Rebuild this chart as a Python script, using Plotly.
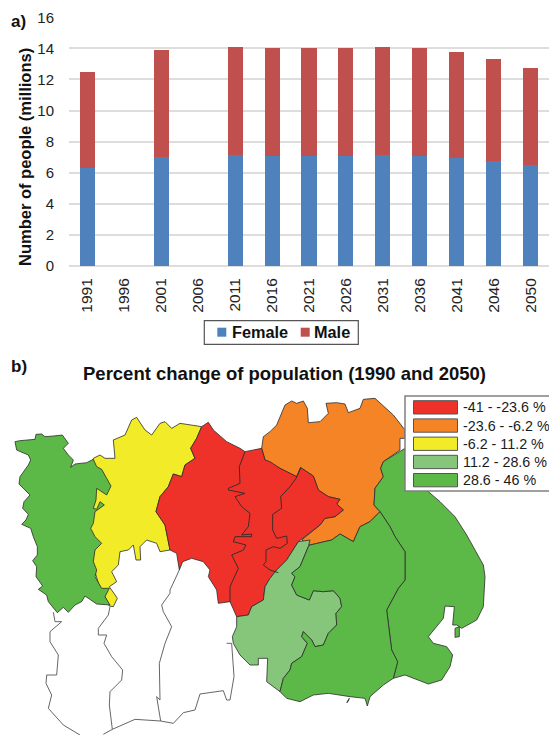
import plotly.graph_objects as go

years = ["1991","1996","2001","2006","2011","2016","2021","2026","2031","2036","2041","2046","2050"]
female = [6.33,None,7.0,None,7.12,7.08,7.1,7.1,7.12,7.08,6.97,6.73,6.47]
male = [6.17,None,6.87,None,7.0,6.95,6.95,6.95,6.95,6.95,6.81,6.57,6.28]
y_ticks = [0,2,4,6,8,10,12,14,16]

legend_labels = ["-41 - -23.6 %","-23.6 - -6.2 %","-6.2 - 11.2 %","11.2 - 28.6 %","28.6 - 46 %"]
legend_colors = ["#EE3229","#F58427","#F2EB27","#85C67A","#5DB947"]

# Map outlines, in map units (x east, y south)
west_green = [(45,185),(60,182),(105,178),(108,163),(125,162),(135,170),(160,168),(187,165),(205,190),(190,205),(205,225),(220,240),(212,262),(225,252),(260,248),(280,238),(290,260),(305,268),(320,295),(333,318),(320,345),(290,325),(288,360),(280,385),(290,388),(300,365),(313,375),(293,390),(285,395),(280,430),(272,445),(285,470),(305,490),(285,510),(280,545),(290,570),(285,590),(305,625),(328,625),(315,650),(330,675),(290,672),(255,648),(245,665),(225,675),(205,697),(190,682),(172,698),(145,665),(140,645),(115,628),(128,618),(108,590),(110,560),(98,542),(112,525),(112,500),(100,470),(92,445),(65,433),(78,420),(85,403),(68,385),(72,365),(90,345),(75,330),(57,312),(60,290),(85,255),(92,240),(85,225),(50,210)]
yellow = [(280,235),(300,225),(315,235),(345,235),(340,180),(375,165),(395,120),(410,112),(425,135),(435,150),(455,165),(480,130),(495,125),(515,145),(540,130),(605,140),(590,175),(572,205),(585,235),(555,255),(545,290),(520,282),(505,320),(480,350),(468,395),(495,435),(510,510),(480,515),(470,490),(440,480),(430,490),(420,500),(422,540),(408,540),(400,495),(385,510),(360,515),(355,555),(335,575),(350,605),(328,620),(352,655),(340,680),(328,678),(315,650),(300,625),(280,560),(270,445),(280,350)]
red = [(605,140),(625,127),(640,150),(680,185),(720,205),(735,215),(785,205),(795,240),(810,245),(840,265),(890,290),(902,263),(940,288),(955,330),(985,350),(1020,358),(1010,372),(1030,390),(1005,410),(975,415),(960,435),(910,475),(895,485),(860,540),(830,570),(810,595),(795,620),(790,660),(755,680),(745,705),(710,710),(690,665),(655,670),(650,630),(625,590),(630,570),(610,545),(575,535),(548,545),(538,570),(530,520),(510,510),(495,435),(468,395),(480,350),(505,320),(520,282),(545,290),(555,255),(585,235),(572,205),(590,175)]
river_a = [(735,215),(718,260),(720,310),(685,325),(685,330),(735,340),(705,350),(725,380),(750,400),(745,440),(725,465),(755,462),(755,470),(705,470),(700,485),(738,495),(730,510),(695,525),(715,565),(690,620),(690,665)]
river_b = [(902,263),(888,295),(870,320),(842,350),(845,385),(818,403),(818,450),(830,475),(860,468),(862,490),(840,505),(820,500),(798,510),(798,545),(790,555),(810,570),(835,578)]
orange = [(785,205),(790,170),(810,155),(830,135),(855,75),(875,63),(890,70),(910,63),(922,85),(925,128),(960,125),(985,100),(978,70),(1010,68),(1035,72),(1045,98),(1080,85),(1090,58),(1125,55),(1160,85),(1180,105),(1215,150),(1215,175),(1200,175),(1200,210),(1150,245),(1142,265),(1150,290),(1125,325),(1122,375),(1140,395),(1110,425),(1080,440),(1060,485),(1020,462),(995,480),(930,495),(905,480),(960,435),(975,415),(1005,410),(1030,390),(1010,372),(1020,358),(985,350),(955,330),(940,288),(902,263),(890,290),(840,265),(795,240)]
light_green = [(895,485),(930,480),(925,500),(900,560),(875,580),(885,590),(875,615),(890,645),(928,660),(940,632),(970,635),(1000,632),(1020,655),(1025,680),(1008,700),(1010,735),(985,760),(970,795),(945,800),(935,780),(910,755),(905,770),(922,790),(905,830),(875,850),(870,870),(850,895),(840,935),(800,905),(803,835),(775,835),(775,855),(750,855),(720,825),(700,790),(697,770),(710,740),(710,710),(745,705),(755,680),(790,660),(795,620),(810,595),(830,570),(860,540)]
south_green = [(930,495),(995,480),(1020,462),(1060,485),(1080,440),(1110,425),(1140,395),(1170,440),(1185,470),(1215,515),(1215,600),(1195,625),(1160,690),(1165,730),(1175,810),(1193,845),(1180,895),(1150,915),(1110,950),(1102,978),(1095,955),(1050,950),(985,940),(940,945),(900,965),(860,955),(840,935),(850,895),(870,870),(875,850),(905,830),(922,790),(905,770),(910,755),(935,780),(945,800),(970,795),(985,760),(1010,735),(1008,700),(1025,680),(1020,655),(1000,632),(970,635),(940,632),(928,660),(890,645),(875,615),(885,590),(875,580),(900,560),(925,500)]
east_green = [(1140,395),(1122,375),(1125,325),(1150,290),(1142,265),(1150,245),(1215,205),(1215,300),(1285,335),(1320,365),(1365,410),(1400,465),(1450,555),(1455,590),(1450,680),(1430,720),(1385,745),(1370,735),(1358,735),(1363,680),(1335,678),(1330,715),(1285,770),(1300,790),(1340,800),(1358,825),(1350,860),(1325,900),(1285,912),(1215,885),(1180,895),(1193,845),(1175,810),(1165,730),(1160,690),(1195,625),(1215,600),(1215,515),(1185,470),(1170,440)]
island = [(1365,745),(1378,740),(1378,770),(1365,772)]
tiny_cape = [(1040,968),(1048,955),(1042,968)]
white_outer = [(160,697),(165,725),(185,725),(150,755),(150,785),(175,825),(170,885),(140,885),(138,910),(155,945),(145,985),(190,1035),(240,1065)]
white_bottom = [(310,1063),(337,1048),(405,1018),(482,1023),(520,1030),(550,998),(585,990),(600,942),(670,932),(680,960),(690,960),(702,890),(695,790),(680,790)]
white_inner_a = [(330,680),(325,705),(295,745),(295,765),(320,765),(312,790),(335,830),(368,870),(365,900),(330,935),(328,975),(337,1048)]
white_inner_b = [(538,570),(510,630),(510,640),(485,675),(490,695),(515,740),(495,790),(478,850),(480,960),(470,950),(482,1023)]

BAR_BLUE, BAR_RED = "#4F81BD", "#C0504D"
FONT = "Liberation Sans"
W, H = 549, 735

fig = go.Figure()
fig.add_bar(x=years, y=female, name="Female", marker=dict(color=BAR_BLUE, line=dict(width=0)), xaxis="x", yaxis="y")
fig.add_bar(x=years, y=male, name="Male", marker=dict(color=BAR_RED, line=dict(width=0)), xaxis="x", yaxis="y")

def poly(pts, color):
    xs, ys = zip(*pts)
    fig.add_scatter(x=list(xs)+[xs[0]], y=list(ys)+[ys[0]], mode="lines", fill="toself", fillcolor=color,
                    line=dict(color="#2b2b2b", width=0.8), xaxis="x2", yaxis="y2", showlegend=False, hoverinfo="skip")

def line(pts, color="#2b2b2b", width=0.9):
    xs, ys = zip(*pts)
    fig.add_scatter(x=list(xs), y=list(ys), mode="lines", line=dict(color=color, width=width),
                    xaxis="x2", yaxis="y2", showlegend=False, hoverinfo="skip")

for pts, c in [(yellow, legend_colors[2]), (west_green, legend_colors[4]), (orange, legend_colors[1]),
               (red, legend_colors[0]), (east_green, legend_colors[4]), (light_green, legend_colors[3]),
               (south_green, legend_colors[4]), (island, legend_colors[4])]:
    poly(pts, c)
for pts in [river_a, river_b, tiny_cape]:
    line(pts)
for pts in [white_outer, white_bottom, white_inner_a, white_inner_b]:
    line(pts, "#555555", 0.9)

def px(v): return v / W
def py(v): return 1 - v / H

shapes = [dict(type="rect", xref="paper", yref="paper", x0=px(405), x1=px(552), y0=py(396), y1=py(491),
               fillcolor="white", line=dict(color="#808080", width=1.5)),
          dict(type="rect", xref="paper", yref="paper", x0=px(204.3), x1=px(358.3), y0=py(320.7), y1=py(344.3),
               fillcolor="white", line=dict(color="#555555", width=1.2)),
          dict(type="rect", xref="paper", yref="paper", x0=px(217.3), x1=px(226.3), y0=py(327.7), y1=py(336.7),
               fillcolor=BAR_BLUE, line=dict(width=0)),
          dict(type="rect", xref="paper", yref="paper", x0=px(300.7), x1=px(309.7), y0=py(327.7), y1=py(336.7),
               fillcolor=BAR_RED, line=dict(width=0))]
anns = []
for i, (lab, col) in enumerate(zip(legend_labels, legend_colors)):
    top = 400.7 + i * 18.2
    shapes.append(dict(type="rect", xref="paper", yref="paper", x0=px(413.5), x1=px(457.5), y0=py(top), y1=py(top + 13.3),
                       fillcolor=col, line=dict(color="#555555", width=1)))
    anns.append(dict(xref="paper", yref="paper", x=px(461.5), y=py(top + 6.8), xanchor="left", yanchor="middle",
                     text=lab, showarrow=False, borderpad=0, font=dict(family=FONT, size=14.3, color="#1a1a1a")))
anns += [
    dict(xref="paper", yref="paper", x=px(10), y=py(22), xanchor="left", yanchor="middle", text="<b>a)</b>",
         showarrow=False, borderpad=0, font=dict(family=FONT, size=17, color="#111")),
    dict(xref="paper", yref="paper", x=px(10), y=py(366), xanchor="left", yanchor="middle", text="<b>b)</b>",
         showarrow=False, borderpad=0, font=dict(family=FONT, size=17, color="#111")),
    dict(xref="paper", yref="paper", x=px(284.5), y=py(373), xanchor="center", yanchor="middle",
         text="<b>Percent change of population (1990 and 2050)</b>", showarrow=False,
         font=dict(family=FONT, size=18.5, color="#111")),
    dict(xref="paper", yref="paper", x=px(25), y=py(157), xanchor="center", yanchor="middle", textangle=-90,
         text="<b>Number of people (millions)</b>", showarrow=False, font=dict(family=FONT, size=16.5, color="#111")),
    dict(xref="paper", yref="paper", x=px(230.5), y=py(332), xanchor="left", yanchor="middle", text="<b>Female</b>",
         showarrow=False, borderpad=0, font=dict(family=FONT, size=16.3, color="#111")),
    dict(xref="paper", yref="paper", x=px(313), y=py(332), xanchor="left", yanchor="middle", text="<b>Male</b>",
         showarrow=False, borderpad=0, font=dict(family=FONT, size=16.3, color="#111")),
]

fig.update_layout(
    width=W, height=H, autosize=False, margin=dict(l=0, r=0, t=0, b=0, autoexpand=False),
    paper_bgcolor="white", plot_bgcolor="rgba(0,0,0,0)", barmode="stack", bargap=0.59,
    font=dict(family=FONT, color="#222"),
    xaxis=dict(domain=[69/W, 1], anchor="y", type="category", categoryorder="array", categoryarray=years,
               range=[-0.5, 12.5], tickangle=-90, tickfont=dict(size=15.5, color="#222"), ticks="outside", ticklen=5,
               tickcolor="rgba(0,0,0,0)", showgrid=False, showline=False, zeroline=False),
    yaxis=dict(domain=[py(266), py(17.3)], anchor="x", range=[0, 16], tickvals=y_ticks, tickfont=dict(size=15, color="#222"),
               ticks="outside", ticklen=11, tickcolor="rgba(0,0,0,0)", gridcolor="#DDDDDD", gridwidth=1.5,
               zeroline=True, zerolinecolor="#DDDDDD", zerolinewidth=1.5, showline=False),
    xaxis2=dict(domain=[0, 1], anchor="y2", range=[0, 1647], visible=False),
    yaxis2=dict(domain=[0, 1], anchor="x2", range=[1065, -1140], visible=False),
    shapes=shapes, annotations=anns, showlegend=False,
)
fig.write_html("out.html", post_script="document.body.style.margin='0';", config={"displayModeBar": False})
